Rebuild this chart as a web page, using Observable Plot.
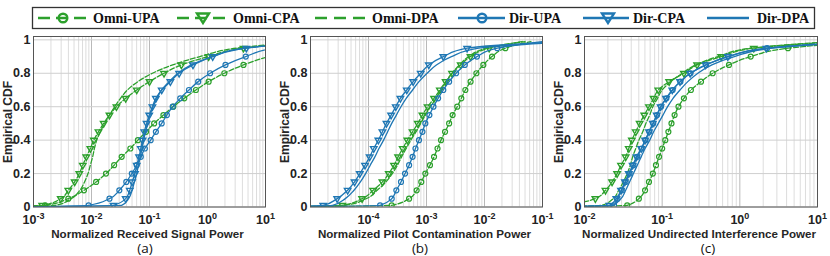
<!DOCTYPE html>
<html><head><meta charset="utf-8">
<script src="https://cdn.jsdelivr.net/npm/d3@7"></script>
<script src="https://cdn.jsdelivr.net/npm/@observablehq/plot@0.6"></script>
<style>
body{margin:0;background:#fff;}
#root{position:relative;width:830px;height:256px;overflow:hidden;background:#fff;}
.panel{position:absolute;top:28px;}
.lbl{position:absolute;white-space:nowrap;line-height:1.05;font-family:"Liberation Sans",Arial,sans-serif;font-weight:bold;font-size:11.6px;color:#262626;transform:translate(-50%,-50%);}
.ylbl{transform:translate(-50%,-50%) rotate(-90deg);font-size:12px;}
.cap{position:absolute;white-space:nowrap;line-height:1.05;font-family:"Open Sans",sans-serif;font-size:13.5px;color:#111;transform:translate(-50%,-50%);}
</style></head><body><div id="root"></div>
<script>
// CDF levels (y) at which each curve's quantile is read
const cdfLevels = [0, 0.01, 0.05, 0.10, 0.15, 0.20, 0.25, 0.30, 0.35, 0.40, 0.45, 0.50, 0.55, 0.60, 0.65, 0.70, 0.75, 0.80, 0.85, 0.90, 0.95, 0.99];
const seriesNames = ["Omni-UPA", "Omni-CPA", "Omni-DPA", "Dir-UPA", "Dir-CPA", "Dir-DPA"];
const yTicks = [0, 0.2, 0.4, 0.6, 0.8, 1];
const xTicksA = [1e-3, 1e-2, 1e-1, 1, 10];
const xTicksB = [1e-4, 1e-3, 1e-2, 1e-1];
const xTicksC = [1e-2, 1e-1, 1, 10];
const xLabels = ["Normalized Received Signal Power", "Normalized Pilot Contamination Power", "Normalized Undirected Interference Power"];
const captions = ["(a)", "(b)", "(c)"];

// log10 of the normalized power at each CDF level
// (a) received signal power
const a_omniUPA = [-3.4, -2.8, -2.40, -2.13, -1.92, -1.75, -1.61, -1.48, -1.33, -1.20, -1.06, -0.92, -0.76, -0.59, -0.40, -0.20, 0.02, 0.29, 0.62, 1.05, 1.60, 2.50];
const a_omniCPA = [-3.5, -2.85, -2.53, -2.40, -2.29, -2.21, -2.15, -2.09, -2.02, -1.96, -1.88, -1.79, -1.69, -1.57, -1.41, -1.22, -1.00, -0.75, -0.45, 0.02, 0.62, 1.80];
const a_omniDPA = [-3.3, -2.62, -2.35, -2.20, -2.12, -2.06, -2.02, -1.98, -1.95, -1.91, -1.85, -1.77, -1.69, -1.60, -1.50, -1.38, -1.20, -0.95, -0.60, -0.13, 0.50, 1.70];
const a_dirUPA  = [-3.3, -2.05, -1.69, -1.52, -1.40, -1.305, -1.22, -1.15, -1.08, -0.98, -0.89, -0.79, -0.70, -0.60, -0.47, -0.32, -0.16, 0.045, 0.31, 0.66, 1.15, 2.2];
const a_dirCPA  = [-3.2, -1.62, -1.41, -1.34, -1.30, -1.25, -1.22, -1.18, -1.15, -1.12, -1.09, -1.05, -1.005, -0.95, -0.89, -0.79, -0.64, -0.49, -0.25, 0.09, 0.67, 1.9];
const a_dirDPA  = [-3.2, -1.48, -1.36, -1.30, -1.26, -1.22, -1.19, -1.16, -1.13, -1.10, -1.07, -1.03, -0.99, -0.94, -0.87, -0.79, -0.66, -0.51, -0.28, 0.08, 0.63, 1.9];
// (b) pilot contamination power
const b_omniUPA = [-5.3, -3.6, -3.30, -3.17, -3.09, -3.02, -2.94, -2.87, -2.81, -2.75, -2.68, -2.61, -2.55, -2.47, -2.40, -2.33, -2.24, -2.14, -2.02, -1.87, -1.64, -1.2];
const b_omniCPA = [-5.6, -4.45, -4.11, -3.92, -3.76, -3.65, -3.56, -3.49, -3.41, -3.33, -3.24, -3.15, -3.07, -2.98, -2.87, -2.77, -2.67, -2.56, -2.41, -2.24, -1.92, -1.3];
const b_omniDPA = [-5.5, -4.40, -4.04, -3.85, -3.70, -3.59, -3.50, -3.43, -3.35, -3.27, -3.18, -3.10, -3.02, -2.93, -2.84, -2.75, -2.66, -2.56, -2.43, -2.27, -1.97, -1.35];
const b_dirUPA  = [-5.3, -3.8, -3.60, -3.52, -3.44, -3.37, -3.30, -3.24, -3.19, -3.13, -3.07, -3.02, -2.95, -2.88, -2.80, -2.71, -2.61, -2.49, -2.34, -2.13, -1.78, -1.0];
const b_dirCPA  = [-5.6, -4.78, -4.54, -4.36, -4.24, -4.15, -4.06, -3.98, -3.91, -3.83, -3.76, -3.69, -3.61, -3.53, -3.45, -3.34, -3.23, -3.10, -2.96, -2.71, -2.30, -0.7];
const b_dirDPA  = [-5.5, -4.62, -4.40, -4.25, -4.14, -4.05, -3.97, -3.89, -3.82, -3.74, -3.67, -3.60, -3.52, -3.44, -3.35, -3.24, -3.13, -2.99, -2.83, -2.57, -2.10, -0.5];
// (c) undirected interference power
const c_omniUPA = [-2.4, -1.45, -1.30, -1.22, -1.17, -1.12, -1.08, -1.04, -1.00, -0.96, -0.92, -0.88, -0.84, -0.79, -0.72, -0.63, -0.50, -0.35, -0.14, 0.14, 0.62, 1.6];
const c_omniCPA = [-3.0, -2.4, -1.86, -1.73, -1.645, -1.58, -1.53, -1.47, -1.43, -1.39, -1.34, -1.29, -1.23, -1.17, -1.11, -1.05, -0.91, -0.72, -0.55, -0.24, 0.18, 1.3];
const c_omniDPA = [-2.4, -1.78, -1.63, -1.56, -1.50, -1.45, -1.41, -1.38, -1.34, -1.30, -1.25, -1.21, -1.16, -1.12, -1.06, -1.00, -0.89, -0.74, -0.57, -0.28, 0.14, 1.2];
const c_dirUPA  = [-2.4, -1.62, -1.575, -1.52, -1.47, -1.42, -1.37, -1.32, -1.265, -1.215, -1.165, -1.115, -1.065, -1.015, -0.945, -0.865, -0.765, -0.635, -0.435, -0.15, 0.35, 1.5];
const c_dirCPA  = [-2.4, -1.68, -1.59, -1.53, -1.48, -1.43, -1.38, -1.33, -1.27, -1.22, -1.17, -1.12, -1.07, -1.02, -0.95, -0.87, -0.77, -0.64, -0.44, -0.155, 0.34, 1.5];
const c_dirDPA  = [-2.4, -1.64, -1.53, -1.47, -1.42, -1.37, -1.32, -1.27, -1.22, -1.16, -1.11, -1.05, -0.99, -0.93, -0.86, -0.77, -0.67, -0.54, -0.36, -0.07, 0.42, 1.6];

const GREEN = "#2ca02c", BLUE = "#1f77b4";
const root = document.getElementById("root");

// ---------- legend ----------
const NS = "http://www.w3.org/2000/svg";
const leg = document.createElementNS(NS, "svg");
leg.setAttribute("width", 830); leg.setAttribute("height", 30);
leg.style.position = "absolute"; leg.style.left = "0px"; leg.style.top = "0px";
const legItems = [
  {name: seriesNames[0], color: GREEN, dash: "12,6", marker: "o", x0: 38, x1: 88, mx: 63, tx: 93},
  {name: seriesNames[1], color: GREEN, dash: "12,6", marker: "v", x0: 177, x1: 230, mx: 203, tx: 233},
  {name: seriesNames[2], color: GREEN, dash: "12,7", marker: null, x0: 315, x1: 369, mx: 0, tx: 372},
  {name: seriesNames[3], color: BLUE, dash: null, marker: "o", x0: 458, x1: 505, mx: 482, tx: 509},
  {name: seriesNames[4], color: BLUE, dash: null, marker: "v", x0: 583, x1: 629, mx: 608, tx: 633},
  {name: seriesNames[5], color: BLUE, dash: null, marker: null, x0: 707, x1: 749, mx: 0, tx: 757}
];
let legHtml = `<rect x="32.5" y="7.5" width="782" height="21" fill="#fff" stroke="#333" stroke-width="1.3"/>`;
for (const it of legItems) {
  const cy = 18;
  legHtml += `<line x1="${it.x0}" x2="${it.x1}" y1="${cy}" y2="${cy}" stroke="${it.color}" stroke-width="2.6" ${it.dash ? `stroke-dasharray="${it.dash}"` : ""}/>`;
  if (it.marker === "o") legHtml += `<circle cx="${it.mx}" cy="${cy}" r="4.3" fill="none" stroke="${it.color}" stroke-width="2.4"/>`;
  if (it.marker === "v") legHtml += `<path d="M${it.mx-6},${cy-4.5}L${it.mx+6},${cy-4.5}L${it.mx},${cy+5}Z" fill="none" stroke="${it.color}" stroke-width="2.4" stroke-linejoin="miter"/>`;
  legHtml += `<text x="${it.tx}" y="22.8" font-family="'Liberation Serif','Times New Roman',serif" font-weight="bold" font-size="14" fill="#111">${it.name}</text>`;
}
leg.innerHTML = legHtml;
root.appendChild(leg);

// ---------- panels ----------
const panels = [
  {domain: [1e-3, 10], ticks: xTicksA, left: 33, w: 232, data: [a_omniUPA, a_omniCPA, a_omniDPA, a_dirUPA, a_dirCPA, a_dirDPA], capX: 145},
  {domain: [1e-5, 1e-1], ticks: xTicksB, left: 310, w: 232, data: [b_omniUPA, b_omniCPA, b_omniDPA, b_dirUPA, b_dirCPA, b_dirDPA], capX: 420},
  {domain: [1e-2, 10], ticks: xTicksC, left: 584, w: 233, data: [c_omniUPA, c_omniCPA, c_omniDPA, c_dirUPA, c_dirCPA, c_dirDPA], capX: 708}
];

panels.forEach((p, k) => {
  const rows = [];
  seriesNames.forEach((name, i) => {
    p.data[i].forEach((v, j) => rows.push({name, p: Math.pow(10, v), F: cdfLevels[j], j}));
  });
  const e0 = Math.round(Math.log10(p.domain[0])), e1 = Math.round(Math.log10(p.domain[1]));
  const major = [], minor = [];
  for (let e = e0; e <= e1; e++) major.push(Math.pow(10, e));
  for (let e = e0; e < e1; e++) for (let m = 2; m <= 9; m++) minor.push(m * Math.pow(10, e));
  const green = rows.filter(d => d.name.startsWith("Omni"));
  const blue = rows.filter(d => d.name.startsWith("Dir"));
  const marked = rows.filter(d => d.j >= 1 && d.j <= 20);
  const lineOpts = {x: "p", y: "F", z: "name", curve: "monotone-y", strokeWidth: 1.3, clip: true};
  const circ = (name, color) => Plot.dot(marked.filter(d => d.name === name), {x: "p", y: "F", r: 2.5, stroke: color, strokeWidth: 1.2, fill: "none", clip: true});
  const tri = (name, color) => Plot.dot(marked.filter(d => d.name === name), {x: "p", y: "F", r: 2.4, symbol: "triangle", rotate: 180, stroke: color, strokeWidth: 1.4, fill: "none", clip: true});
  const chart = Plot.plot({
    width: 33 + p.w + 6, height: 228,
    marginLeft: 33, marginRight: 6, marginTop: 8, marginBottom: 49.5,
    x: {type: "log", domain: p.domain},
    y: {domain: [0, 1.02]},
    style: {fontFamily: "'Liberation Sans', Arial, sans-serif", fontSize: "12.5px", fontWeight: "bold", color: "#222", background: "transparent", overflow: "visible"},
    marks: [
      Plot.ruleX(minor, {stroke: "#d9d9d9", strokeWidth: 0.9}),
      Plot.ruleX(major, {stroke: "#b9b9b9", strokeWidth: 1}),
      Plot.ruleY(yTicks, {stroke: "#cfcfcf", strokeWidth: 1}),
      Plot.line(green, {...lineOpts, stroke: GREEN, strokeDasharray: "5,2"}),
      circ("Omni-UPA", GREEN),
      tri("Omni-CPA", GREEN),
      Plot.line(blue, {...lineOpts, stroke: BLUE}),
      circ("Dir-UPA", BLUE),
      tri("Dir-CPA", BLUE),
      Plot.axisX({ticks: p.ticks, tickSize: 0, tickPadding: 8, label: null, tickFormat: d => "10|" + Math.round(Math.log10(d))}),
      Plot.axisY({ticks: yTicks, tickSize: 0, tickPadding: 3, label: null, tickFormat: d => String(d)}),
      Plot.frame({stroke: "#555", strokeWidth: 1})
    ]
  });
  chart.classList.add("panel");
  chart.style.left = (p.left - 33) + "px";
  root.appendChild(chart);
  // superscript exponents on tick labels
  chart.querySelectorAll('g[aria-label="x-axis tick label"] text').forEach(t => {
    const [base, ex] = t.textContent.split("|");
    t.textContent = "";
    const b = document.createElementNS(NS, "tspan"); b.textContent = base; t.appendChild(b);
    const s = document.createElementNS(NS, "tspan"); s.textContent = ex; s.setAttribute("dy", "-4.5"); s.setAttribute("font-size", "9"); t.appendChild(s);
  });
  const mk = (cls, text, x, y) => { const d = document.createElement("div"); d.className = cls; d.textContent = text; d.style.left = x + "px"; d.style.top = y + "px"; root.appendChild(d); };
  mk("lbl", xLabels[k], p.left + p.w / 2 - 1.5, 233.5);
  mk("lbl ylbl", "Empirical CDF", p.left - 25, 122);
  mk("cap", captions[k], p.capX, 248);
});
</script></body></html>
